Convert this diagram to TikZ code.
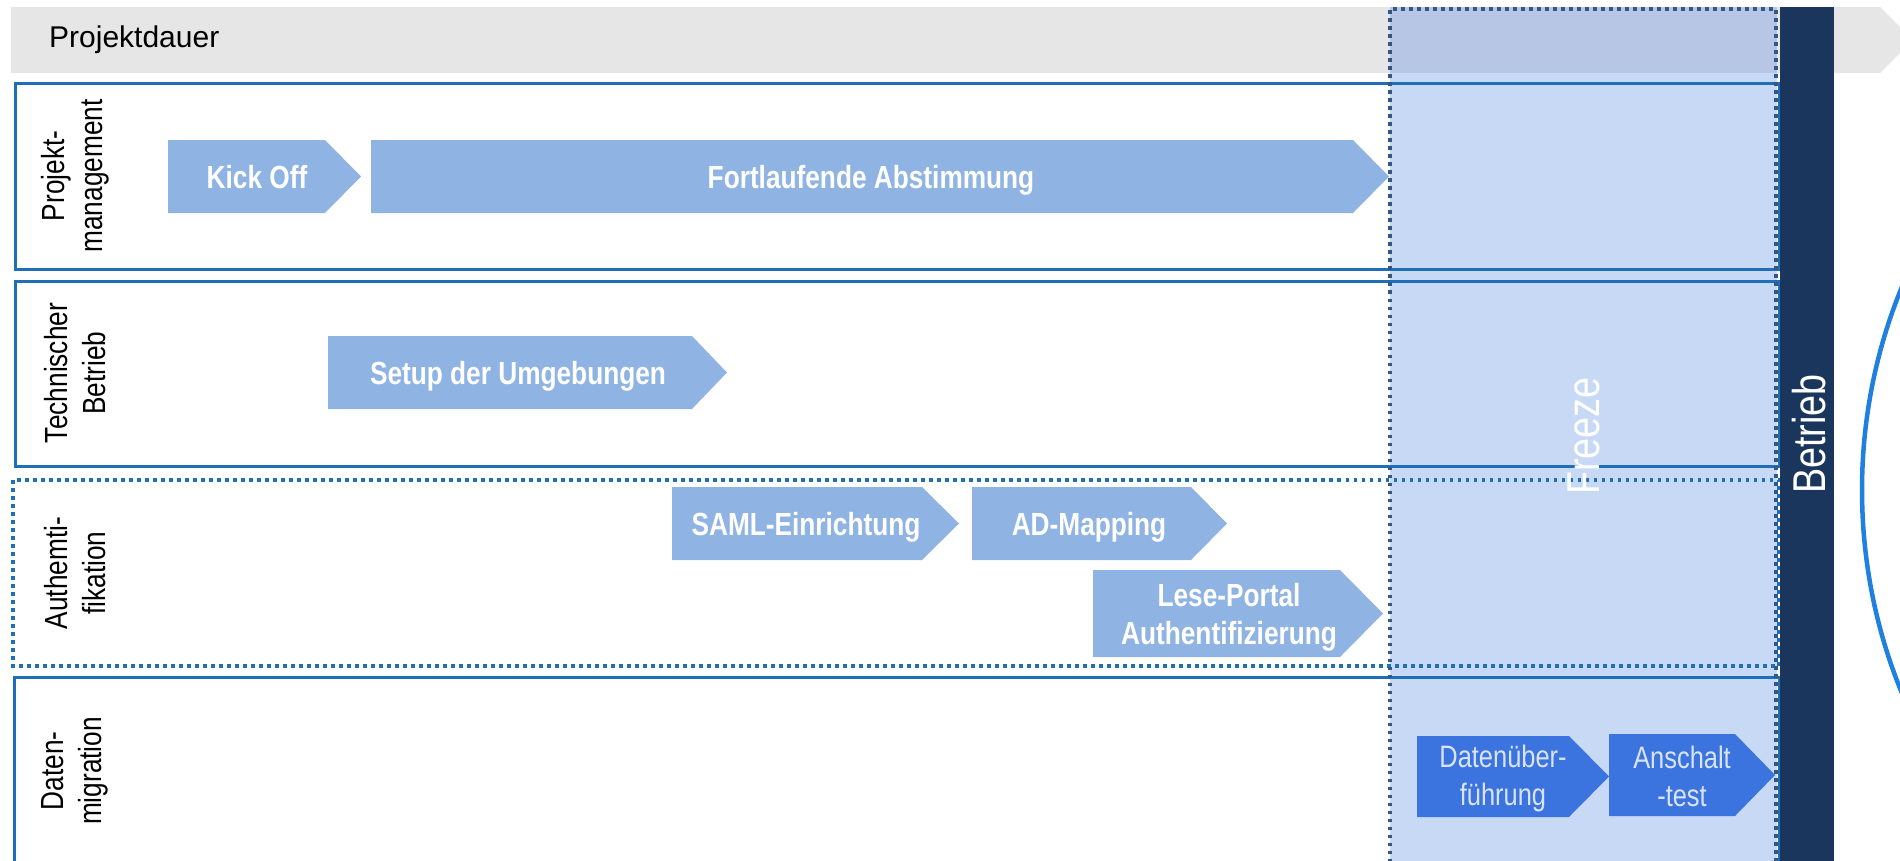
\documentclass[tikz,border=0pt]{standalone}
\usepackage{fontspec}
\setmainfont{Liberation Sans}
\newfontfamily\nf[FakeStretch=0.82]{Liberation Sans}
\definecolor{rowblue}{RGB}{31,110,184}
\definecolor{freezeborder}{RGB}{50,88,136}
\definecolor{darkbar}{RGB}{26,54,93}
\definecolor{taskfill}{RGB}{143,180,227}
\definecolor{datafill}{RGB}{59,115,223}
\definecolor{datatext}{RGB}{217,228,248}
\definecolor{circleblue}{RGB}{31,128,224}
\definecolor{greybar}{RGB}{230,230,230}
\definecolor{freezelight}{RGB}{199,217,245}
\definecolor{freezegrey}{RGB}{183,198,228}
\begin{document}
\begin{tikzpicture}[x=1bp,y=-1bp,
  rowbox/.style={draw=rowblue, line width=3bp},
  rowdot/.style={draw=rowblue, line width=3.5bp, dash pattern=on 3.5bp off 4.5bp},
  freezedot/.style={draw=freezeborder, line width=3.5bp, dash pattern=on 3.5bp off 4.5bp},
  taskshape/.style={fill=taskfill},
  datashape/.style={fill=datafill},
  tasktext/.style={text=white, font=\nf\bfseries\fontsize{32bp}{38bp}\selectfont, align=center, inner sep=0pt},
  datatxt/.style={text=datatext, font=\nf\fontsize{31bp}{38bp}\selectfont, align=center, inner sep=0pt},
  rowlabel/.style={rotate=90, font=\nf\fontsize{32bp}{38bp}\selectfont, align=center, inner sep=0pt},
  biglabel/.style={rotate=90, text=white, font=\nf\fontsize{46bp}{50bp}\selectfont, inner sep=0pt}
]
\useasboundingbox (0,0) rectangle (1900,861);
\begin{scope}
\clip (0,0) rectangle (1900,861);
% top bar
\fill[greybar] (11,7) -- (1880,7) -- (1913,40) -- (1880,73) -- (11,73) -- cycle;
% freeze fill
\fill[freezelight] (1390,73) rectangle (1777,870);
\fill[freezegrey] (1390,7) rectangle (1777,73);
% rows
\draw[rowbox] (15,83) rectangle (1779,269);
\draw[rowbox] (15,281) rectangle (1779,466);
\draw[rowdot] (13,480) rectangle (1779,666);
\draw[rowbox] (14,677) rectangle (1779,880);
% tasks
\fill[taskshape] (168,140) -- (325,140) -- (361,176.5) -- (325,213) -- (168,213) -- cycle;
\fill[taskshape] (371,140) -- (1353,140) -- (1389,176.5) -- (1353,213) -- (371,213) -- cycle;
\fill[taskshape] (328,336) -- (692,336) -- (727,372.5) -- (692,409) -- (328,409) -- cycle;
\fill[taskshape] (672,487) -- (922,487) -- (959,523.5) -- (922,560) -- (672,560) -- cycle;
\fill[taskshape] (972,487) -- (1191,487) -- (1227,523.5) -- (1191,560) -- (972,560) -- cycle;
\fill[taskshape] (1093,570) -- (1340,570) -- (1383,613.5) -- (1340,657) -- (1093,657) -- cycle;
\fill[datashape] (1417,736) -- (1569,736) -- (1609,776.5) -- (1569,817) -- (1417,817) -- cycle;
\fill[datashape] (1609,734) -- (1735,734) -- (1775,775) -- (1735,816) -- (1609,816) -- cycle;
% freeze border
\draw[freezedot] (1390,870) -- (1390,9) -- (1776,9) -- (1776,870);
% Betrieb bar
\fill[darkbar] (1780,7) rectangle (1834,870);
% circle
\draw[circleblue, line width=4.5bp] (2397,490) circle [radius=535];
\end{scope}
% texts
\node[anchor=west, font=\fontsize{30bp}{36bp}\selectfont, inner sep=0pt] (dauer) at (49,40) {Projektdauer};
\node[rowlabel] (lab1) at (75,176) {Projekt-\\management};
\node[rowlabel] (lab2) at (75,373) {Technischer\\Betrieb};
\node[rowlabel] (lab3) at (75,573) {Authemti-\\fikation};
\node[rowlabel] (lab4) at (75,771) {Daten-\\migration};
\node[tasktext, anchor=base] (kick) at (257,188) {Kick Off};
\node[tasktext, anchor=base] (abst) at (871,188) {Fortlaufende Abstimmung};
\node[tasktext, anchor=base] (setup) at (518,384) {Setup der Umgebungen};
\node[tasktext, anchor=base] (saml) at (806,535) {SAML-Einrichtung};
\node[tasktext, anchor=base] (adm) at (1089,535) {AD-Mapping};
\node[tasktext] (lese) at (1229,617) {Lese-Portal\\Authentifizierung};
\node[datatxt] (daten) at (1503,778) {Datenüber-\\führung};
\node[datatxt] (ansch) at (1682,776) {Anschalt\\-test};
\node[biglabel] (freeze) at (1584,436) {Freeze};
\node[biglabel] (betrieb) at (1809,434) {Betrieb};
\end{tikzpicture}
\end{document}
